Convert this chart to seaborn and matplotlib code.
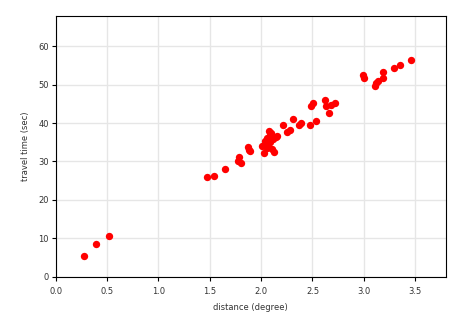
import matplotlib
matplotlib.use("Agg")
import matplotlib.pyplot as plt
import seaborn as sns
import pandas as pd

distance = [0.27, 0.39, 0.52, 1.47, 1.54, 1.65, 1.77, 1.78, 1.80, 1.87, 1.88, 1.89,
            2.01, 2.03, 2.04, 2.06, 2.07, 2.08, 2.09, 2.10, 2.11, 2.12, 2.13, 2.14,
            2.06, 2.09, 2.15, 2.21, 2.25, 2.28, 2.31, 2.37, 2.39, 2.48, 2.53,
            2.49, 2.51, 2.62, 2.63, 2.66, 2.68, 2.72,
            2.99, 3.00, 3.11, 3.12, 3.14, 3.19, 3.19, 3.29, 3.35, 3.46]
travel_time = [5.5, 8.6, 10.6, 26.0, 26.2, 28.0, 30.1, 31.2, 29.6, 33.7, 33.0, 32.7,
               34.0, 32.2, 35.2, 36.0, 34.2, 37.8, 35.0, 37.5, 33.2, 35.8, 32.4, 36.4,
               33.5, 36.8, 36.6, 39.5, 37.6, 38.2, 41.0, 39.6, 40.0, 39.6, 40.4,
               44.4, 45.1, 45.9, 44.3, 42.5, 44.8, 45.1,
               52.4, 51.8, 49.7, 50.5, 51.0, 51.8, 53.3, 54.2, 55.0, 56.4]

df = pd.DataFrame({"distance": distance, "travel_time": travel_time})

sns.set_theme(style="whitegrid", rc={
    "axes.edgecolor": "black",
    "axes.linewidth": 0.8,
    "grid.color": "#e6e6e6",
    "grid.linewidth": 1.0,
    "xtick.bottom": True,
    "ytick.left": True,
    "xtick.major.size": 3,
    "ytick.major.size": 3,
    "xtick.color": "black",
    "ytick.color": "black",
    "font.size": 6,
})
plt.rcParams["font.family"] = ["DejaVu Sans"]

fig = plt.figure(figsize=(4.65, 3.15), dpi=100)
ax = fig.add_axes([0.120, 0.121, 0.839, 0.828])
sns.scatterplot(data=df, x="distance", y="travel_time", color="red",
                s=28, linewidth=0, ax=ax)
ax.set_xlim(0, 3.8)
ax.set_ylim(0, 67.8)
ax.set_xticks([0.0, 0.5, 1.0, 1.5, 2.0, 2.5, 3.0, 3.5])
ax.set_yticks([0, 10, 20, 30, 40, 50, 60])
ax.tick_params(labelsize=6, colors="#333333", width=0.8)
ax.tick_params(axis="x", pad=4)
ax.tick_params(axis="y", pad=2)
ax.tick_params(color="black")
ax.set_xlabel("distance (degree)", fontsize=6, color="#333333", labelpad=5)
ax.set_ylabel("travel time (sec)", fontsize=6, color="#333333", labelpad=6)
for s in ax.spines.values():
    s.set_color("black")
fig.savefig("out.png", dpi=100)
